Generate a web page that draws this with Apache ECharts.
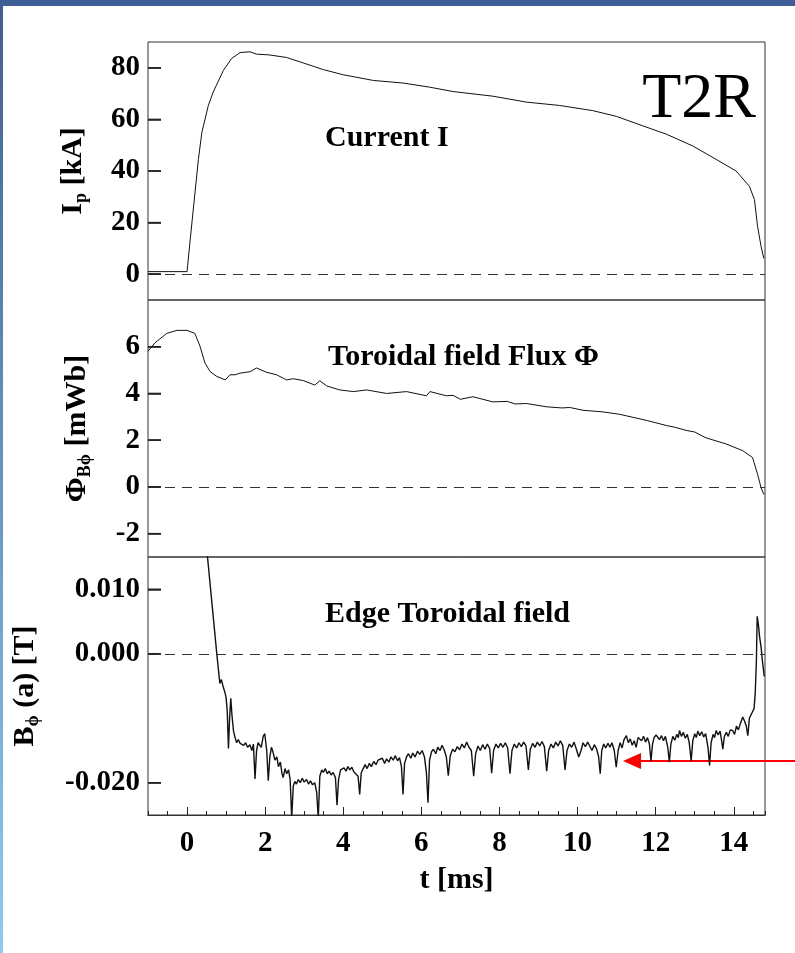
<!DOCTYPE html>
<html>
<head>
<meta charset="utf-8">
<script src="https://cdn.jsdelivr.net/npm/echarts@6/dist/echarts.min.js"></script>
<style>
html,body{margin:0;padding:0;background:#fff;}
#c{width:795px;height:953px;}
</style>
</head>
<body>
<div id="c"></div>
<script>
// ---- Data ----
// x-axis (time, ms)
const xTickValues = [0, 2, 4, 6, 8, 10, 12, 14];

// Panel 1: plasma current Ip [kA]
const currentT = [-1, 0, 0.08, 0.29, 0.38, 0.42, 0.545, 0.67, 0.93, 1.14, 1.36, 1.61, 1.78, 2.1, 2.55, 2.89, 3.49, 4.0, 4.77, 5.53, 6.21, 6.81, 7.83, 8.69, 9.54, 10.39, 10.99, 11.67, 12.27, 12.95, 13.55, 14.06, 14.4, 14.53, 14.61, 14.7, 14.77];
const currentI = [1, 1, 13.3, 44.5, 55, 57.5, 65.4, 70.6, 79, 83.6, 85.9, 86.2, 85.3, 85, 84, 82.3, 79.3, 77.3, 75.1, 74.1, 72.5, 70.8, 69, 66.7, 65.4, 63.4, 61.2, 57.5, 54.3, 49.7, 44.5, 40, 34.1, 28.9, 18.5, 10.7, 6.1];
const currentTicks = [0, 20, 40, 60, 80];

// Panel 2: toroidal field flux [mWb]
const fluxT = [-1.0, -0.82, -0.52, -0.26, 0, 0.2, 0.33, 0.46, 0.59, 0.76, 0.98, 1.1, 1.23, 1.36, 1.61, 1.78, 2.03, 2.29, 2.55, 2.72, 2.98, 3.27, 3.4, 3.58, 3.91, 4.26, 4.6, 5.11, 5.62, 6.13, 6.22, 6.64, 6.81, 7.0, 7.32, 7.83, 8.2, 8.4, 8.69, 9.2, 9.6, 9.8, 10.14, 10.65, 11.07, 11.76, 12.27, 12.5, 12.78, 13.0, 13.29, 13.8, 14.23, 14.48, 14.61, 14.7, 14.77];
const fluxPhi = [5.81, 6.17, 6.57, 6.70, 6.70, 6.57, 6.03, 5.30, 4.94, 4.73, 4.58, 4.80, 4.80, 4.87, 4.93, 5.09, 4.91, 4.80, 4.58, 4.63, 4.55, 4.36, 4.54, 4.32, 4.15, 4.08, 4.15, 4.0, 4.08, 3.90, 4.08, 3.90, 3.92, 3.75, 3.86, 3.64, 3.66, 3.55, 3.57, 3.43, 3.38, 3.40, 3.28, 3.21, 3.11, 2.85, 2.63, 2.55, 2.42, 2.35, 2.10, 1.84, 1.55, 1.26, 0.54, -0.04, -0.32];
const fluxTicks = [-2, 0, 2, 4, 6];

// Panel 3: edge toroidal field [T]
const edgeT = [0.50, 0.76, 0.84, 0.88, 0.92, 0.97, 1.00, 1.03, 1.06, 1.09, 1.12, 1.15, 1.19, 1.23, 1.27, 1.31, 1.36, 1.40, 1.45, 1.50, 1.55, 1.61, 1.66, 1.70, 1.74, 1.78, 1.82, 1.86, 1.90, 1.95, 1.99, 2.04, 2.08, 2.12, 2.16, 2.20, 2.25, 2.30, 2.34, 2.39, 2.43, 2.46, 2.51, 2.55, 2.60, 2.64, 2.68, 2.72, 2.76, 2.80, 2.85, 2.90, 2.95, 3.00, 3.06, 3.11, 3.16, 3.21, 3.27, 3.32, 3.36, 3.40, 3.45, 3.49, 3.54, 3.59, 3.64, 3.69, 3.74, 3.80, 3.84, 3.88, 3.93, 3.97, 4.02, 4.07, 4.12, 4.17, 4.22, 4.27, 4.32, 4.38, 4.42, 4.46, 4.51, 4.56, 4.61, 4.67, 4.72, 4.78, 4.84, 4.89, 4.94, 5.00, 5.06, 5.11, 5.17, 5.22, 5.28, 5.33, 5.39, 5.44, 5.49, 5.53, 5.57, 5.62, 5.67, 5.73, 5.78, 5.84, 5.90, 5.96, 6.02, 6.08, 6.13, 6.17, 6.21, 6.26, 6.31, 6.37, 6.42, 6.48, 6.53, 6.58, 6.64, 6.69, 6.74, 6.80, 6.86, 6.92, 6.98, 7.04, 7.10, 7.16, 7.22, 7.28, 7.34, 7.39, 7.45, 7.51, 7.57, 7.63, 7.69, 7.75, 7.80, 7.85, 7.91, 7.97, 8.03, 8.09, 8.15, 8.21, 8.27, 8.32, 8.38, 8.44, 8.50, 8.56, 8.62, 8.68, 8.74, 8.79, 8.85, 8.91, 8.97, 9.03, 9.09, 9.15, 9.21, 9.26, 9.32, 9.38, 9.44, 9.50, 9.56, 9.62, 9.68, 9.73, 9.79, 9.85, 9.91, 9.97, 10.03, 10.09, 10.14, 10.20, 10.26, 10.31, 10.37, 10.43, 10.49, 10.54, 10.58, 10.62, 10.67, 10.72, 10.78, 10.83, 10.88, 10.94, 10.99, 11.04, 11.09, 11.14, 11.19, 11.25, 11.30, 11.35, 11.40, 11.45, 11.50, 11.55, 11.59, 11.64, 11.69, 11.74, 11.79, 11.84, 11.88, 11.92, 11.96, 12.01, 12.05, 12.10, 12.15, 12.20, 12.25, 12.31, 12.35, 12.39, 12.44, 12.49, 12.54, 12.58, 12.61, 12.66, 12.71, 12.76, 12.81, 12.86, 12.91, 12.95, 13.00, 13.04, 13.08, 13.13, 13.18, 13.23, 13.28, 13.34, 13.38, 13.42, 13.47, 13.51, 13.55, 13.60, 13.65, 13.69, 13.72, 13.76, 13.81, 13.86, 13.91, 13.97, 14.02, 14.07, 14.12, 14.17, 14.23, 14.28, 14.32, 14.36, 14.40, 14.44, 14.48, 14.52, 14.55, 14.58, 14.60, 14.62, 14.64, 14.66, 14.70, 14.73, 14.78];
const edgeB = [0.0165, 0.0001, -0.0046, -0.0040, -0.0050, -0.0060, -0.0068, -0.0090, -0.0147, -0.0100, -0.0069, -0.0095, -0.0120, -0.0130, -0.0138, -0.0133, -0.0139, -0.0136, -0.0142, -0.0138, -0.0145, -0.0141, -0.0150, -0.0140, -0.0194, -0.0150, -0.0138, -0.0135, -0.0145, -0.0128, -0.0124, -0.0150, -0.0197, -0.0160, -0.0145, -0.0152, -0.0165, -0.0160, -0.0175, -0.0168, -0.0185, -0.0192, -0.0178, -0.0186, -0.0180, -0.0195, -0.0255, -0.0205, -0.0198, -0.0202, -0.0195, -0.0200, -0.0193, -0.0199, -0.0195, -0.0202, -0.0197, -0.0203, -0.0200, -0.0215, -0.0255, -0.0190, -0.0180, -0.0184, -0.0178, -0.0186, -0.0182, -0.0188, -0.0184, -0.0192, -0.0235, -0.0195, -0.0180, -0.0183, -0.0177, -0.0182, -0.0175, -0.0180, -0.0176, -0.0183, -0.0180, -0.0190, -0.0218, -0.0185, -0.0178, -0.0172, -0.0178, -0.0170, -0.0175, -0.0167, -0.0172, -0.0165, -0.0168, -0.0162, -0.0170, -0.0163, -0.0168, -0.0160, -0.0165, -0.0158, -0.0166, -0.0161, -0.0175, -0.0218, -0.0170, -0.0160, -0.0155, -0.0162, -0.0154, -0.0160, -0.0151, -0.0156, -0.0150, -0.0160, -0.0185, -0.0231, -0.0165, -0.0152, -0.0148, -0.0155, -0.0145, -0.0150, -0.0142, -0.0148, -0.0160, -0.0189, -0.0158, -0.0148, -0.0152, -0.0144, -0.0149, -0.0140, -0.0146, -0.0137, -0.0145, -0.0150, -0.0190, -0.0155, -0.0143, -0.0150, -0.0141, -0.0148, -0.0140, -0.0147, -0.0185, -0.0150, -0.0140, -0.0146, -0.0139, -0.0145, -0.0138, -0.0146, -0.0186, -0.0150, -0.0140, -0.0146, -0.0138, -0.0144, -0.0137, -0.0143, -0.0180, -0.0148, -0.0139, -0.0145, -0.0137, -0.0143, -0.0136, -0.0144, -0.0182, -0.0150, -0.0140, -0.0146, -0.0137, -0.0143, -0.0135, -0.0142, -0.0180, -0.0150, -0.0140, -0.0145, -0.0137, -0.0148, -0.0160, -0.0150, -0.0138, -0.0144, -0.0137, -0.0140, -0.0150, -0.0141, -0.0148, -0.0160, -0.0186, -0.0150, -0.0140, -0.0146, -0.0139, -0.0145, -0.0138, -0.0150, -0.0176, -0.0150, -0.0138, -0.0146, -0.0133, -0.0127, -0.0138, -0.0132, -0.0142, -0.0135, -0.0145, -0.0130, -0.0127, -0.0135, -0.0128, -0.0137, -0.0130, -0.0140, -0.0166, -0.0140, -0.0130, -0.0126, -0.0124, -0.0133, -0.0127, -0.0135, -0.0128, -0.0145, -0.0168, -0.0140, -0.0128, -0.0134, -0.0125, -0.0130, -0.0119, -0.0128, -0.0122, -0.0131, -0.0125, -0.0138, -0.0166, -0.0135, -0.0124, -0.0130, -0.0120, -0.0127, -0.0121, -0.0129, -0.0124, -0.0145, -0.0173, -0.0138, -0.0125, -0.0130, -0.0119, -0.0126, -0.0120, -0.0135, -0.0148, -0.0128, -0.0122, -0.0128, -0.0118, -0.0119, -0.0125, -0.0112, -0.0118, -0.0108, -0.0098, -0.0105, -0.0112, -0.0127, -0.0100, -0.0095, -0.0090, -0.0085, -0.0061, -0.0010, 0.0058, 0.0050, 0.0040, 0.0027, 0.0010, -0.0009, -0.0035];
const edgeTicks = [-0.02, 0, 0.01];

// ---- Chart ----
const FONT = '"Liberation Serif", "Times New Roman", serif';
const X_MIN = -1, X_MAX = 14.8;
const zip = (a, b) => a.map((v, i) => [v, b[i]]);

const chart = echarts.init(document.getElementById('c'), null, {renderer: 'canvas'});

const gridBase = {left: 148, width: 617, show: true, borderColor: '#333', borderWidth: 1, backgroundColor: 'transparent'};
const grids = [
  Object.assign({top: 42, height: 258}, gridBase),
  Object.assign({top: 300, height: 257}, gridBase),
  Object.assign({top: 557, height: 258}, gridBase)
];

const hiddenX = (gi) => ({gridIndex: gi, type: 'value', min: X_MIN, max: X_MAX, show: false, axisLine: {onZero: false}});
// helper x axes whose zero sits on the left frame edge; y axes attach to them
const anchorX = (gi) => ({gridIndex: gi, type: 'value', min: 0, max: X_MAX - X_MIN, show: false, axisLine: {onZero: false}});
const ANCHOR_BASE = 4;

const labelStyle = {fontFamily: FONT, fontWeight: 'bold', fontSize: 29, color: '#000'};
const nameRich = {
  m: {fontFamily: FONT, fontWeight: 'bold', fontSize: 30, color: '#000', lineHeight: 34},
  s: {fontFamily: FONT, fontWeight: 'bold', fontSize: 18, color: '#000', verticalAlign: 'bottom', lineHeight: 10}
};

function yAxisDef(gi, min, max, ticks, fmt, name, gap) {
  return {
    gridIndex: gi, type: 'value', min: min, max: max, position: 'left',
    axisLine: {show: false, onZero: true, onZeroAxisIndex: ANCHOR_BASE + gi},
    splitLine: {show: false},
    axisTick: {show: true, inside: true, length: 13, customValues: ticks, lineStyle: {color: '#222', width: 1.5}},
    axisLabel: Object.assign({customValues: ticks, margin: 8, formatter: fmt}, labelStyle),
    name: name, nameLocation: 'middle', nameRotate: 90, nameGap: gap,
    nameTextStyle: {fontFamily: FONT, fontWeight: 'bold', fontSize: 30, color: '#000', rich: nameRich}
  };
}

const zeroLine = {
  silent: true, symbol: 'none', label: {show: false}, animation: false,
  lineStyle: {type: [10, 7], color: '#333', width: 1},
  data: [{yAxis: 0}]
};

// Inward y-axis ticks also drawn as thin rect symbols at (x min, tick value)
function yTickSeries(gi, ticks) {
  return {
    type: 'scatter', xAxisIndex: gi, yAxisIndex: gi, silent: true, clip: false, z: 10,
    data: ticks.map(v => [X_MIN, v]),
    symbol: 'rect', symbolSize: [13, 1.5], symbolOffset: [6.5, 0],
    itemStyle: {color: '#222', opacity: 1},
    emphasis: {disabled: true}
  };
}

const option = {
  backgroundColor: '#fff',
  animation: false,
  grid: grids,
  xAxis: [
    hiddenX(0),
    hiddenX(1),
    {
      gridIndex: 2, type: 'value', min: X_MIN, max: X_MAX, interval: 0.5, position: 'bottom',
      axisLine: {show: true, onZero: false, lineStyle: {color: '#333', width: 1}}, splitLine: {show: false},
      axisTick: {show: true, inside: true, length: 4, lineStyle: {color: '#222'}},
      axisLabel: {show: false}
    },
    {
      gridIndex: 2, type: 'value', min: X_MIN, max: X_MAX, position: 'bottom',
      axisLine: {show: true, onZero: false, lineStyle: {color: '#333', width: 1}}, splitLine: {show: false},
      axisTick: {show: true, inside: true, length: 8, customValues: xTickValues, lineStyle: {color: '#222'}},
      axisLabel: Object.assign({customValues: xTickValues, margin: 14}, labelStyle),
      name: 't [ms]', nameLocation: 'middle', nameGap: 50,
      nameTextStyle: {fontFamily: FONT, fontWeight: 'bold', fontSize: 30, color: '#000'}
    },
    anchorX(0),
    anchorX(1),
    anchorX(2)
  ],
  yAxis: [
    yAxisDef(0, -10, 90, currentTicks, v => String(v), '{m|I}{s|p}{m| [kA]}', 58),
    yAxisDef(1, -3, 8, fluxTicks, v => String(v), '{m|Φ}{s|Bϕ}{m| [mWb]}', 54),
    yAxisDef(2, -0.025, 0.015, edgeTicks, v => v.toFixed(3), '{m|B}{s|ϕ}{m| (a) [T]}', 106)
  ],
  series: [
    {type: 'line', xAxisIndex: 0, yAxisIndex: 0, data: zip(currentT, currentI), showSymbol: false, symbol: 'none',
     lineStyle: {color: '#111', width: 1}, clip: true, markLine: zeroLine},
    {type: 'line', xAxisIndex: 1, yAxisIndex: 1, data: zip(fluxT, fluxPhi), showSymbol: false, symbol: 'none',
     lineStyle: {color: '#111', width: 1}, clip: true, markLine: zeroLine},
    {type: 'line', xAxisIndex: 2, yAxisIndex: 2, data: zip(edgeT, edgeB), showSymbol: false, symbol: 'none',
     lineStyle: {color: '#111', width: 1.4}, clip: true, markLine: zeroLine},
    yTickSeries(0, currentTicks),
    yTickSeries(1, fluxTicks),
    yTickSeries(2, edgeTicks)
  ],
  graphic: [
    {type: 'rect', left: 0, top: 0, shape: {width: 795, height: 6}, style: {fill: '#3f5e98'}, silent: true},
    {type: 'rect', left: 0, top: 0, shape: {width: 3, height: 953},
     style: {fill: {type: 'linear', x: 0, y: 0, x2: 0, y2: 1, colorStops: [{offset: 0, color: '#3f5e98'}, {offset: 1, color: '#8ccaf7'}]}}, silent: true},
    {type: 'text', x: 325, y: 138, style: {text: 'Current I', font: 'bold 30px ' + FONT, fill: '#000', verticalAlign: 'middle', align: 'left'}},
    {type: 'text', x: 328, y: 357, style: {text: 'Toroidal field Flux Φ', font: 'bold 30px ' + FONT, fill: '#000', verticalAlign: 'middle', align: 'left'}},
    {type: 'text', x: 325, y: 614, style: {text: 'Edge Toroidal field', font: 'bold 30px ' + FONT, fill: '#000', verticalAlign: 'middle', align: 'left'}},
    {type: 'text', x: 756, y: 100, style: {text: 'T2R', font: '64px ' + FONT, fill: '#000', verticalAlign: 'middle', align: 'right'}},
    {type: 'line', shape: {x1: 795, y1: 761, x2: 636, y2: 761}, style: {stroke: '#ff0000', lineWidth: 2}},
    {type: 'polygon', shape: {points: [[623, 761], [641, 753], [641, 769]]}, style: {fill: '#ff0000'}}
  ]
};
chart.setOption(option);
</script>
</body>
</html>
